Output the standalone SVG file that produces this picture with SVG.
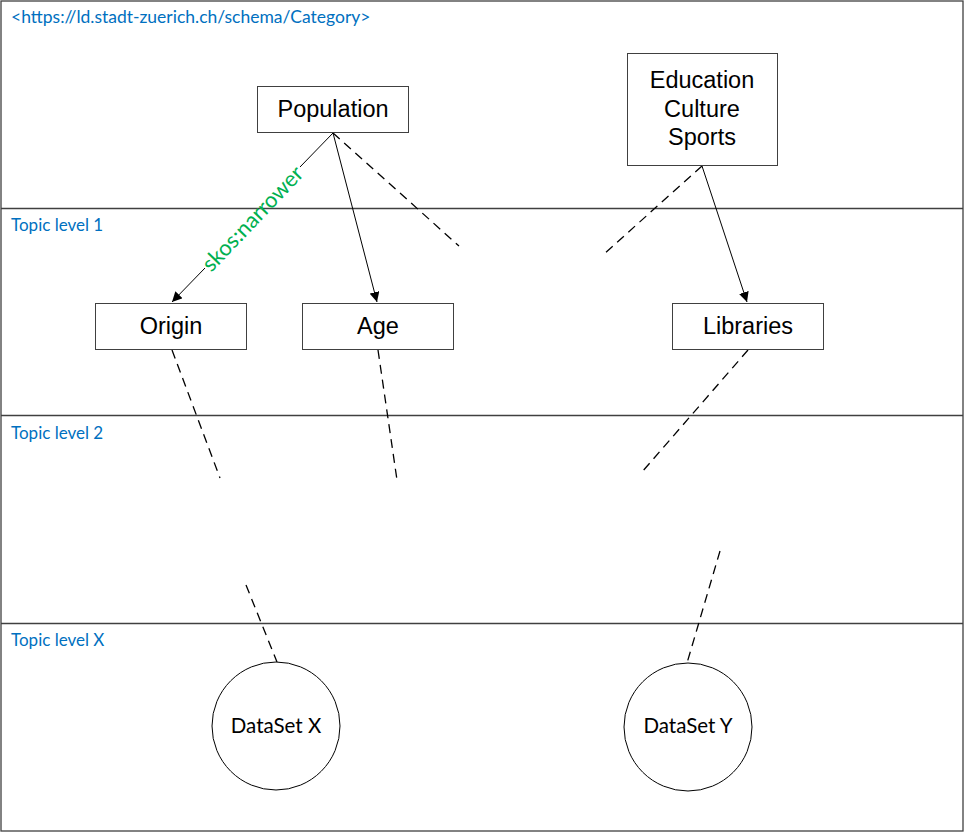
<svg xmlns="http://www.w3.org/2000/svg" width="964" height="832" viewBox="0 0 964 832">
<style>
.box{fill:#fff;stroke:#404040;stroke-width:1}
.bt{font-family:"Liberation Sans",Arial,sans-serif;font-size:23.5px;fill:#000;text-anchor:middle}
.ct{font-family:Lato,"Open Sans",sans-serif;font-size:20.5px;fill:#000;text-anchor:middle}
.lvl{font-family:Lato,"Open Sans",sans-serif;font-size:17px;fill:#0070C0}
.sep{stroke:#404040;stroke-width:1.3}
.ln{stroke:#000;stroke-width:1;fill:none}
.dash{stroke:#000;stroke-width:1.3;stroke-dasharray:9,6;fill:none}
</style>
<defs>
<marker id="arr" viewBox="0 0 10 10" refX="10" refY="5" markerWidth="10" markerHeight="10" markerUnits="userSpaceOnUse" orient="auto">
<path d="M0,0 L10,5 L0,10 z" fill="#000"/>
</marker>
</defs>
<rect x="0" y="0" width="964" height="832" fill="#fff"/>
<g id="frame">
<rect x="1" y="1" width="962" height="830" fill="none" stroke="#404040" stroke-width="1.3"/>
<line class="sep" x1="1" y1="208.5" x2="963" y2="208.5"/>
<line class="sep" x1="1" y1="415.5" x2="963" y2="415.5"/>
<line class="sep" x1="1" y1="623.5" x2="963" y2="623.5"/>
<text class="lvl" x="11" y="23" style="font-size:17.5px">&lt;https://ld.stadt-zuerich.ch/schema/Category&gt;</text>
<text class="lvl" x="11" y="231">Topic level 1</text>
<text class="lvl" x="11" y="439">Topic level 2</text>
<text class="lvl" x="11" y="646">Topic level X</text>
</g>
<g id="connectors">
<line class="ln" x1="333" y1="133" x2="300" y2="167"/>
<line class="ln" x1="205" y1="268" x2="172" y2="302" marker-end="url(#arr)"/>
<text x="253" y="226" transform="rotate(-46.4 253 219)" font-family="Lato,'Open Sans',sans-serif" font-size="22" fill="#00B050" text-anchor="middle">skos:narrower</text>
<line class="ln" x1="333" y1="133" x2="377" y2="302" marker-end="url(#arr)"/>
<line class="dash" x1="333" y1="133" x2="459" y2="246"/>
<line class="ln" x1="702" y1="166" x2="747" y2="302" marker-end="url(#arr)"/>
<line class="dash" x1="702" y1="166" x2="604" y2="254"/>
<line class="dash" x1="172" y1="350" x2="220" y2="478"/>
<line class="dash" x1="378" y1="350" x2="397" y2="480"/>
<line class="dash" x1="748" y1="350" x2="642" y2="472"/>
<line class="dash" x1="246" y1="585" x2="277" y2="662"/>
<line class="dash" x1="720" y1="551" x2="687" y2="663"/>
</g>
<g id="population">
<rect class="box" x="257.5" y="86.5" width="151" height="46"/>
<text class="bt" x="333" y="117">Population</text>
</g>
<g id="education">
<rect class="box" x="627.5" y="53.5" width="150" height="112"/>
<text class="bt" x="702" y="88">Education</text>
<text class="bt" x="702" y="117">Culture</text>
<text class="bt" x="702" y="145">Sports</text>
</g>
<g id="origin">
<rect class="box" x="95.5" y="303.5" width="151" height="46"/>
<text class="bt" x="171" y="334">Origin</text>
</g>
<g id="age">
<rect class="box" x="302.5" y="303.5" width="151" height="46"/>
<text class="bt" x="378" y="334">Age</text>
</g>
<g id="libraries">
<rect class="box" x="672.5" y="303.5" width="151" height="46"/>
<text class="bt" x="748" y="334">Libraries</text>
</g>
<g id="datasetx">
<circle cx="276" cy="726" r="64" fill="#fff" stroke="#000" stroke-width="1"/>
<text class="ct" x="276" y="733">DataSet X</text>
</g>
<g id="datasety">
<circle cx="688" cy="727" r="64" fill="#fff" stroke="#000" stroke-width="1"/>
<text class="ct" x="688" y="733">DataSet Y</text>
</g>
</svg>
